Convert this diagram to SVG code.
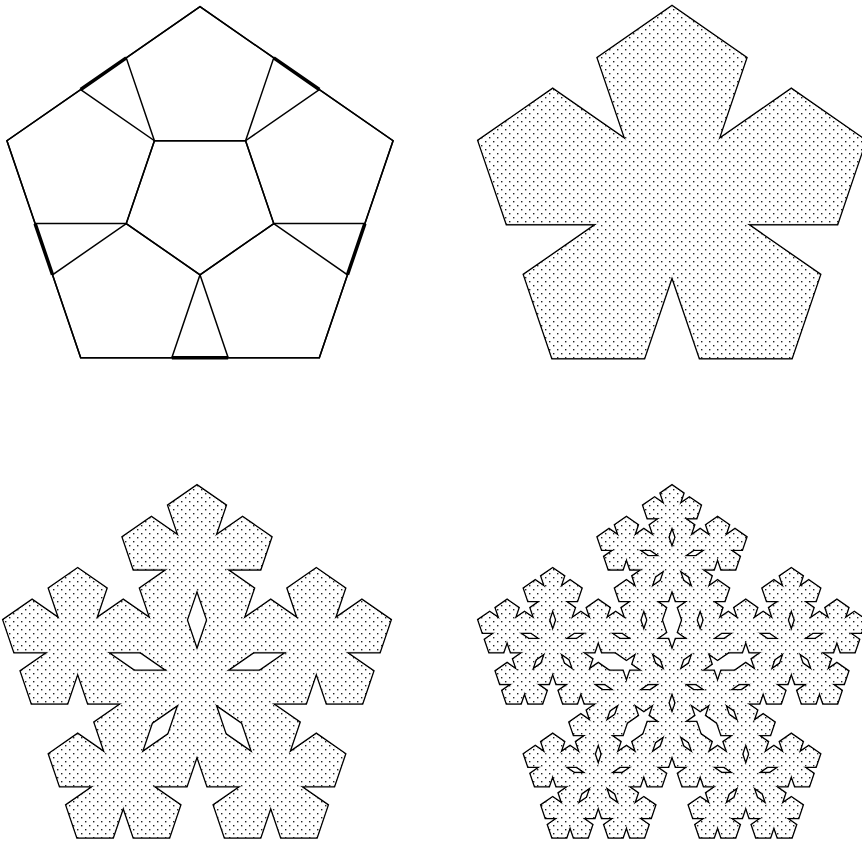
<svg xmlns="http://www.w3.org/2000/svg" xmlns:xlink="http://www.w3.org/1999/xlink" width="862" height="843" viewBox="0 0 862 843">
<style>
.ln{fill:none;stroke:#000;stroke-width:1.5;stroke-linejoin:miter}
.thick{fill:none;stroke:#000;stroke-width:3.5}
.ol{fill:none;stroke:#000;stroke-width:3.6;stroke-linejoin:miter}
.mk{fill:#fff;stroke:#fff;stroke-width:1}
</style>
<defs>
<path id="p" vector-effect="non-scaling-stroke" d="M-0.224514,-0.309017 L-0.363271,-0.736068 L0,-1 L0.363271,-0.736068 L0.224514,-0.309017 L0.587785,-0.572949 L0.951057,-0.309017 L0.812299,0.118034 L0.363271,0.118034 L0.726543,0.381966 L0.587785,0.809017 L0.138757,0.809017 L0,0.381966 L-0.138757,0.809017 L-0.587785,0.809017 L-0.726543,0.381966 L-0.363271,0.118034 L-0.812299,0.118034 L-0.951057,-0.309017 L-0.587785,-0.572949 Z"/>
<g id="f2">
<use href="#p" transform="scale(-0.381966)"/>
<use href="#p" transform="translate(0,-0.618034) scale(0.381966)"/>
<use href="#p" transform="translate(0.587785,-0.190983) scale(0.381966)"/>
<use href="#p" transform="translate(0.363271,0.5) scale(0.381966)"/>
<use href="#p" transform="translate(-0.363271,0.5) scale(0.381966)"/>
<use href="#p" transform="translate(-0.587785,-0.190983) scale(0.381966)"/>
</g>
<g id="f3">
<use href="#f2" transform="scale(-0.381966)"/>
<use href="#f2" transform="translate(0,-0.618034) scale(0.381966)"/>
<use href="#f2" transform="translate(0.587785,-0.190983) scale(0.381966)"/>
<use href="#f2" transform="translate(0.363271,0.5) scale(0.381966)"/>
<use href="#f2" transform="translate(-0.363271,0.5) scale(0.381966)"/>
<use href="#f2" transform="translate(-0.587785,-0.190983) scale(0.381966)"/>
</g>
<pattern id="dots" patternUnits="userSpaceOnUse" width="8" height="8">
<rect width="8" height="8" fill="#fff"/>
<rect x="1" y="1" width="1.4" height="1.4" fill="#222"/>
<rect x="5" y="5" width="1.4" height="1.4" fill="#222"/>
</pattern>
<mask id="m1" maskUnits="userSpaceOnUse" x="0" y="0" width="862" height="843"><use href="#p" class="mk" transform="translate(672,200.7) scale(203,194)"/></mask>
<mask id="m2" maskUnits="userSpaceOnUse" x="0" y="0" width="862" height="843"><use href="#f2" class="mk" transform="translate(197,680) scale(203,194)"/></mask>
<mask id="m3" maskUnits="userSpaceOnUse" x="0" y="0" width="862" height="843"><use href="#f3" class="mk" transform="translate(672,680) scale(203,194)"/></mask>
</defs>
<rect width="862" height="843" fill="#fff"/>
<g id="dissection" transform="translate(200,200.7) scale(203,194)">
<polygon class="ln" vector-effect="non-scaling-stroke" points="0,-1 0.951057,-0.309017 0.587785,0.809017 -0.587785,0.809017 -0.951057,-0.309017"/>
<polygon class="ln" vector-effect="non-scaling-stroke" points="0,-1 0.363271,-0.736068 0.224514,-0.309017 -0.224514,-0.309017 -0.363271,-0.736068"/>
<polygon class="ln" vector-effect="non-scaling-stroke" points="0.587785,-0.572949 0.951057,-0.309017 0.812299,0.118034 0.363271,0.118034 0.224514,-0.309017"/>
<polygon class="ln" vector-effect="non-scaling-stroke" points="0.363271,0.118034 0.726543,0.381966 0.587785,0.809017 0.138757,0.809017 0,0.381966"/>
<polygon class="ln" vector-effect="non-scaling-stroke" points="-0.363271,0.118034 0,0.381966 -0.138757,0.809017 -0.587785,0.809017 -0.726543,0.381966"/>
<polygon class="ln" vector-effect="non-scaling-stroke" points="-0.587785,-0.572949 -0.224514,-0.309017 -0.363271,0.118034 -0.812299,0.118034 -0.951057,-0.309017"/>
<polygon class="ln" vector-effect="non-scaling-stroke" points="0,0.381966 -0.363271,0.118034 -0.224514,-0.309017 0.224514,-0.309017 0.363271,0.118034"/>
<path class="thick" vector-effect="non-scaling-stroke" d="M0.363271,-0.736068 L0.587785,-0.572949 M0.812299,0.118034 L0.726543,0.381966 M0.138757,0.809017 L-0.138757,0.809017 M-0.726543,0.381966 L-0.812299,0.118034 M-0.587785,-0.572949 L-0.363271,-0.736068"/>
</g>
<g id="flake1">
<use href="#p" class="ol" transform="translate(672,200.7) scale(203,194)"/>
<rect width="862" height="843" fill="url(#dots)" mask="url(#m1)"/>
</g>
<g id="flake2">
<use href="#f2" class="ol" transform="translate(197,680) scale(203,194)"/>
<rect width="862" height="843" fill="url(#dots)" mask="url(#m2)"/>
</g>
<g id="flake3">
<use href="#f3" class="ol" transform="translate(672,680) scale(203,194)"/>
<rect width="862" height="843" fill="url(#dots)" mask="url(#m3)"/>
</g>
</svg>
